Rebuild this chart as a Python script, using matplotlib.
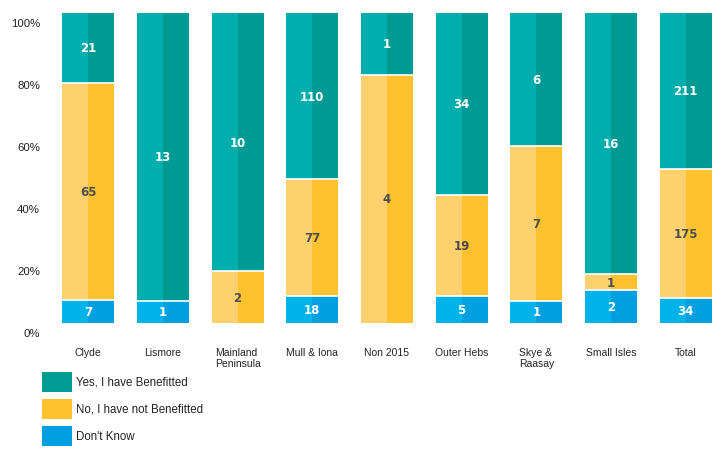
import numpy as np
import matplotlib.pyplot as plt
from matplotlib.patches import Rectangle
from matplotlib.transforms import ScaledTranslation

plt.rcParams["font.family"] = ["Liberation Sans", "DejaVu Sans"]

areas = ["Clyde", "Lismore", "Mainland\nPeninsula", "Mull & Iona", "Non 2015",
         "Outer Hebs", "Skye &\nRaasay", "Small Isles", "Total"]
dont_know = np.array([7, 1, 0, 18, 0, 5, 1, 2, 34])
no_benefit = np.array([65, 0, 2, 77, 4, 19, 7, 1, 175])
yes_benefit = np.array([21, 13, 10, 110, 1, 34, 6, 16, 211])

# name, counts, light half, dark half, label colour, legend colour
series = [
    ("Don't Know", dont_know, "#00b3ea", "#009fe0", "white", "#009fe2"),
    ("No, I have not Benefitted", no_benefit, "#fdd26e", "#fdc22e", "#4d4d4d", "#fdc22e"),
    ("Yes, I have Benefitted", yes_benefit, "#00afad", "#009a94", "white", "#009b93"),
]

totals = dont_know + no_benefit + yes_benefit

W, H = 724, 456
fig = plt.figure(figsize=(W/100, H/100), dpi=100)
ax = fig.add_axes([51/W, 132/H, 672/W, 310/H])

x = np.arange(len(areas))
w = 0.70
bottom = np.zeros(len(areas))
for name, counts, light, dark, tcol, _ in series:
    frac = counts / totals
    ax.bar(x - w/4, frac, w/2, bottom=bottom, color=light, linewidth=0)
    ax.bar(x + w/4, frac, w/2, bottom=bottom, color=dark, linewidth=0)
    for i in range(len(areas)):
        if counts[i] > 0:
            ax.text(x[i], bottom[i] + frac[i]/2, str(counts[i]), ha="center", va="center",
                    color=tcol, fontsize=8.5, fontweight="bold", family="DejaVu Sans")
    bottom = bottom + frac
    # white separators between stacked segments
    for i in range(len(areas)):
        if counts[i] > 0 and bottom[i] < 0.999:
            ax.plot([x[i] - w/2, x[i] + w/2], [bottom[i], bottom[i]], color="white", lw=1.2)

ax.set_xlim(-0.5, len(areas) - 0.5)
ax.set_ylim(0, 1)
for s in ax.spines.values():
    s.set_visible(False)

yt = np.arange(0, 1.01, 0.2)
ax.set_yticks(yt)
ax.set_yticklabels([f"{int(round(v*100))}%" for v in yt], fontsize=8.2, color="#222222")
ax.tick_params(axis="y", length=0, pad=8)
off = ScaledTranslation(0, -9/100, fig.dpi_scale_trans)
for lab in ax.get_yticklabels():
    lab.set_transform(lab.get_transform() + off)

ax.set_xticks(x)
ax.set_xticklabels(areas, fontsize=7.5, color="#222222", va="top")
ax.tick_params(axis="x", length=0, pad=17)
for lab in ax.get_xticklabels():
    lab.set_multialignment("left")

# legend drawn by hand to match the square swatches
leg_top = [373, 400, 427]
for (name, _, _, _, _, col), top in zip(series[::-1], leg_top):
    fig.add_artist(Rectangle((42/W, 1 - (top + 20)/H), 30/W, 20/H,
                             transform=fig.transFigure, facecolor=col, edgecolor="none"))
    fig.text(76/W, 1 - (top + 10)/H, name, ha="left", va="center", fontsize=8.3, color="#222222")

fig.savefig("out.png", dpi=100)
